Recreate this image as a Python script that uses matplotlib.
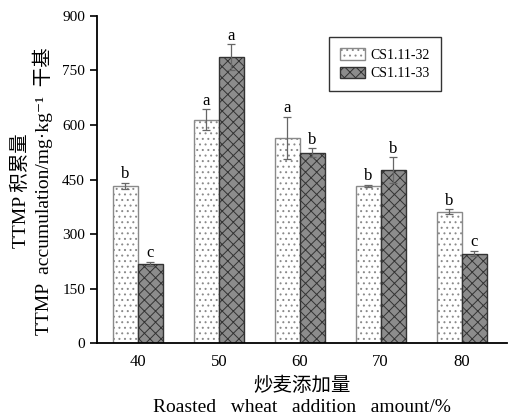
import numpy as np
import matplotlib.pyplot as plt

# 炒麦添加量 (%) and TTMP accumulation per strain
levels = ["40", "50", "60", "70", "80"]
cs32 = [433, 615, 564, 433, 361]
cs32_err = [8, 28, 58, 3, 7]
cs33 = [218, 787, 524, 476, 246]
cs33_err = [5, 35, 12, 35, 7]
cs32_sig = ["b", "a", "a", "b", "b"]
cs33_sig = ["c", "a", "b", "b", "c"]

SERIF = ["Liberation Serif", "Noto Sans CJK SC", "DejaVu Serif"]
plt.rcParams["font.family"] = SERIF
plt.rcParams["hatch.linewidth"] = 0.7
plt.rcParams["hatch.color"] = "#444444"

fig = plt.figure(figsize=(5.1, 4.19), dpi=100)
ax = fig.add_axes([0.190, 0.181, 0.804, 0.781])

x = np.arange(len(levels))
w = 0.31

b1 = ax.bar(x - w / 2, cs32, w, color="white", edgecolor="#8a8a8a",
            hatch="...", linewidth=1.0, label="CS1.11-32", zorder=2)
b2 = ax.bar(x + w / 2, cs33, w, color="#8c8c8c", edgecolor="#333333",
            hatch="xxx", linewidth=1.0, label="CS1.11-33", zorder=2)

ax.errorbar(x - w / 2, cs32, yerr=cs32_err, fmt="none", ecolor="#666666",
            elinewidth=0.9, capsize=3, capthick=0.9, zorder=3)
ax.errorbar(x + w / 2, cs33, yerr=cs33_err, fmt="none", ecolor="#666666",
            elinewidth=0.9, capsize=3, capthick=0.9, zorder=3)

for xi, v, e, s in zip(x - w / 2, cs32, cs32_err, cs32_sig):
    ax.text(xi, v + e + 2, s, ha="center", va="bottom", fontsize=12)
for xi, v, e, s in zip(x + w / 2, cs33, cs33_err, cs33_sig):
    ax.text(xi, v + e + 2, s, ha="center", va="bottom", fontsize=12)

ax.set_xlim(-0.506, 4.56)
ax.set_ylim(0, 900)
ax.set_yticks([0, 150, 300, 450, 600, 750, 900])
ax.set_xticks(x)
ax.set_xticklabels(levels)
ax.tick_params(axis="y", direction="out", length=5, width=1.2, labelsize=11)
ax.tick_params(axis="x", length=0, labelsize=12, pad=8)

ax.spines["top"].set_visible(False)
ax.spines["right"].set_visible(False)
ax.spines["left"].set_linewidth(1.3)
ax.spines["bottom"].set_linewidth(1.3)

ax.set_ylabel("TTMP 积累量\nTTMP  accumulation/mg·kg⁻¹  干基",
              fontsize=14, linespacing=1.2)
ax.yaxis.set_label_coords(-0.106, 0.465)
ax.text(0.5, -0.13, "炒麦添加量", transform=ax.transAxes, ha="center",
        va="center", fontsize=14)
ax.text(0.5, -0.198, "Roasted   wheat   addition   amount/%",
        transform=ax.transAxes, ha="center", va="center", fontsize=14)

leg = ax.legend(loc="upper left", bbox_to_anchor=(0.549, 0.956), fontsize=10,
                frameon=True, fancybox=False, handlelength=1.8, handleheight=0.9,
                borderpad=0.8, labelspacing=0.35, handletextpad=0.4)
leg.get_frame().set_edgecolor("black")
leg.get_frame().set_linewidth(1.0)

fig.savefig("out.png", dpi=100)
